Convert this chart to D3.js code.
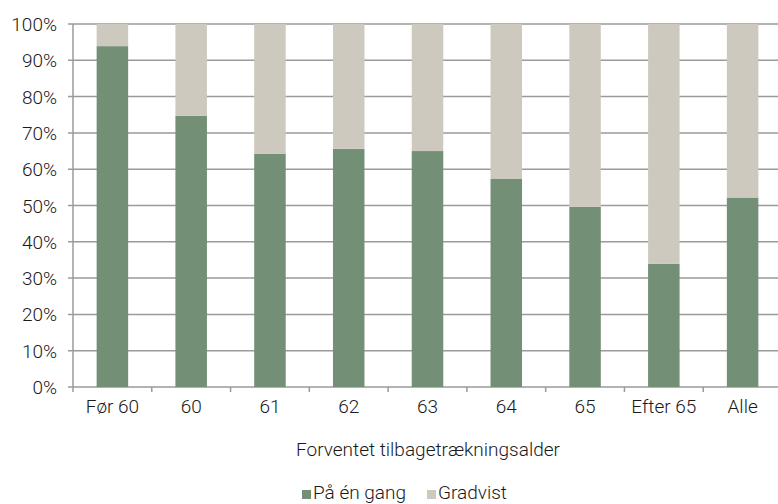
<!DOCTYPE html>
<html><head><meta charset="utf-8">
<script src="https://cdn.jsdelivr.net/npm/d3@7"></script>
<style>body{margin:0;background:#fff}svg{display:block}text{font-family:Roboto,"Noto Sans",sans-serif;font-weight:300;fill:#1a1a1a}</style>
</head><body><svg id="c" width="778" height="504"></svg>
<script>
const categories = ["Før 60","60","61","62","63","64","65","Efter 65","Alle"];
const paaEnGang = [93.9,74.7,64.2,65.6,65.0,57.3,49.6,33.9,52.2];
const gradvist = paaEnGang.map(v => 100 - v);
const yTicks = [0,10,20,30,40,50,60,70,80,90,100];
const seriesNames = ["På én gang","Gradvist"];
const colors = ["#738f75","#cdc9be"];

const svg = d3.select("#c");
const L = 73, R = 782, T = 24, B = 387;
const x = d3.scaleBand().domain(categories).range([L,R]).paddingInner(0.6).paddingOuter(0.3);
const y = d3.scaleLinear().domain([0,100]).range([B,T]);
const FS = 19;

svg.append("g").selectAll("line").data(yTicks).join("line")
  .attr("x1",L-5).attr("x2",R).attr("y1",d=>y(d)).attr("y2",d=>y(d))
  .attr("stroke","#9a9a9a").attr("stroke-width",1.5);

const rows = categories.map((c,i)=>({c, a:paaEnGang[i], b:gradvist[i]}));
const stack = d3.stack().keys(["a","b"])(rows);
svg.append("g").selectAll("g").data(stack).join("g").attr("fill",(d,i)=>colors[i])
  .selectAll("rect").data(d=>d).join("rect")
  .attr("x",d=>x(d.data.c)).attr("width",x.bandwidth())
  .attr("y",d=>y(d[1])).attr("height",d=>y(d[0])-y(d[1]));

svg.append("line").attr("x1",L).attr("x2",L).attr("y1",T).attr("y2",B+5).attr("stroke","#9a9a9a").attr("stroke-width",1.5);
const bounds = d3.range(1,categories.length).map(i=>L+i*(R-L)/categories.length);
svg.append("g").selectAll("line").data(bounds).join("line")
  .attr("x1",d=>d).attr("x2",d=>d).attr("y1",B).attr("y2",B+5)
  .attr("stroke","#9a9a9a").attr("stroke-width",1.5);

svg.append("g").selectAll("text").data(yTicks).join("text")
  .attr("x",57).attr("y",d=>y(d)+7).attr("text-anchor","end").attr("font-size",FS)
  .text(d=>d+"%");
svg.append("g").selectAll("text").data(categories).join("text")
  .attr("x",d=>x(d)+x.bandwidth()/2).attr("y",413).attr("text-anchor","middle").attr("font-size",FS)
  .text(d=>d);
svg.append("text").attr("x",428).attr("y",456).attr("text-anchor","middle").attr("font-size",FS)
  .text("Forventet tilbagetrækningsalder");

const lg = svg.append("g");
const lx = [302,427];
seriesNames.forEach((n,i)=>{
  lg.append("rect").attr("x",lx[i]).attr("y",490).attr("width",9).attr("height",9).attr("fill",colors[i]);
  lg.append("text").attr("x",lx[i]+11).attr("y",499).attr("font-size",FS).text(n);
});
</script></body></html>
